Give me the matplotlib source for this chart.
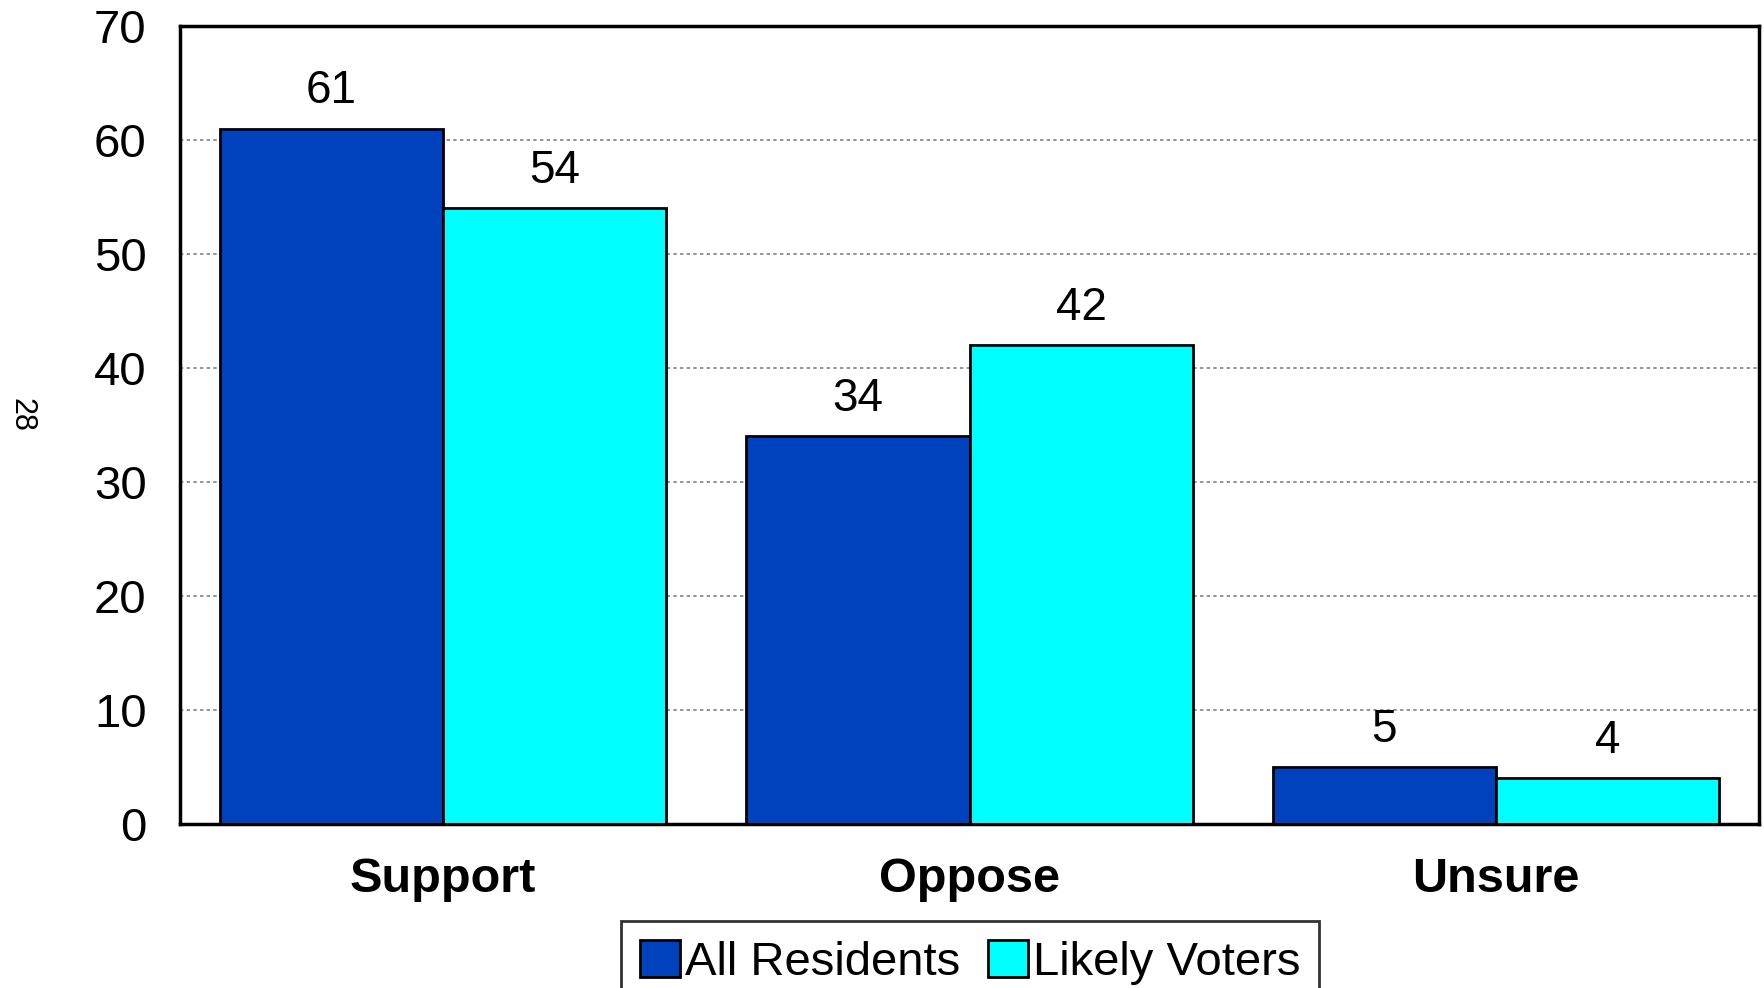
import matplotlib.pyplot as plt
import numpy as np

categories = ["Support", "Oppose", "Unsure"]
all_residents = [61, 34, 5]
likely_voters = [54, 42, 4]
series_names = ["All Residents", "Likely Voters"]
yticks = [0, 10, 20, 30, 40, 50, 60, 70]

plt.rcParams['font.family'] = ['Liberation Sans', 'DejaVu Sans']

fig = plt.figure(figsize=(17.65, 9.88), dpi=100)
ax = fig.add_axes([0.102, 0.166, 0.8946, 0.8077])

x = np.arange(len(categories))
w = 0.424
b1 = ax.bar(x - w / 2, all_residents, w, color='#0041BE', edgecolor='black',
            linewidth=2, label=series_names[0], zorder=3)
b2 = ax.bar(x + w / 2, likely_voters, w, color='#00FFFF', edgecolor='black',
            linewidth=2, label=series_names[1], zorder=3)

for bars, vals in [(b1, all_residents), (b2, likely_voters)]:
    for r, v in zip(bars, vals):
        ax.annotate(str(v), (r.get_x() + r.get_width() / 2, v),
                    xytext=(0, 11), textcoords='offset points',
                    ha='center', va='bottom', fontsize=33)

ax.set_xlim(-0.5, 2.5)
ax.set_ylim(0, 70)
ax.set_yticks(yticks)
ax.set_yticklabels([str(t) for t in yticks], fontsize=34)
ax.set_xticks(x)
ax.set_xticklabels(categories, fontsize=35, fontweight='bold')
ax.tick_params(axis='y', length=0, pad=24)
ax.tick_params(axis='x', length=0, pad=24)
ax.yaxis.grid(True, linestyle=(0, (2, 2)), color='#808080', linewidth=1.2, zorder=0)
ax.set_axisbelow(True)
for s in ax.spines.values():
    s.set_linewidth(2.5)

fig.text(0.012, 0.58, "28", rotation=270, fontsize=22, ha='center', va='center')

leg = fig.legend(loc='upper center', bbox_to_anchor=(0.5496, 0.068), ncol=2,
                 fontsize=34, frameon=True, fancybox=False, edgecolor='black',
                 handlelength=0.85, handleheight=0.85, handletextpad=0.1,
                 columnspacing=0.6, borderpad=0.4, borderaxespad=0)
leg.get_frame().set_linewidth(2)

fig.savefig("out.png", dpi=100)
